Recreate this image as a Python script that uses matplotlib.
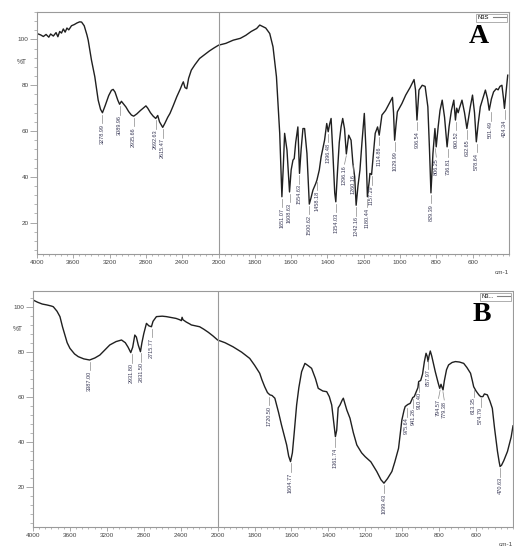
import numpy as np
import matplotlib
matplotlib.use("Agg")
import matplotlib.pyplot as plt
from matplotlib.ticker import FixedLocator, NullFormatter

# ---- spectrum A (N3S) ----
wn_a = [4000, 3960, 3930, 3900, 3870, 3850, 3820, 3790, 3770, 3750, 3730, 3710, 3690, 3670,
        3650, 3620, 3590, 3560, 3530, 3509, 3480, 3450, 3436, 3400, 3363, 3340, 3326, 3300,
        3279, 3250, 3210, 3180, 3161, 3140, 3110, 3090, 3070, 3050, 3020, 2990, 2960, 2935,
        2900, 2860, 2830, 2800, 2780, 2750, 2720, 2692, 2670, 2650, 2615, 2590, 2560, 2535,
        2500, 2460, 2420, 2400, 2388, 2370, 2350, 2330, 2300, 2260, 2209, 2150, 2100, 2050,
        2000, 1960, 1919, 1880, 1850, 1820, 1790, 1773, 1760, 1740, 1718, 1700, 1681, 1663,
        1651, 1643, 1636, 1623, 1609, 1600, 1590, 1583, 1575, 1563, 1554, 1545, 1535, 1526,
        1513, 1500, 1490, 1480, 1465, 1458, 1445, 1435, 1416, 1404, 1396, 1388, 1380, 1370,
        1360, 1354, 1345, 1335, 1325, 1316, 1306, 1296, 1288, 1283, 1270, 1260, 1250, 1242,
        1232, 1221, 1210, 1197, 1188, 1180, 1170, 1166, 1157, 1147, 1137, 1124, 1115, 1100,
        1080, 1060, 1042, 1036, 1030, 1022, 1015, 990, 969, 945, 923, 915, 907, 900,
        896, 878, 862, 847, 838, 830, 824, 819, 808, 801, 790, 780, 768, 755,
        741, 730, 717, 704, 695, 688, 680, 673, 659, 645, 632, 620, 613, 601,
        590, 580, 570, 558, 545, 530, 518, 509, 497, 485, 470, 460, 450, 439,
        430, 425, 415, 407]
t_a = [102.6, 102.0, 101.3, 102.2, 101.0, 102.4, 101.5, 103.0, 101.2, 103.5, 102.8, 104.6, 103.2, 105.0,
       104.2, 106.0, 106.5, 107.2, 107.7, 107.6, 106.0, 102.0, 99.7, 91.0, 83.7, 77.5, 73.5, 69.5,
       68.0, 71.0, 75.5, 77.8, 78.2, 77.0, 73.5, 71.7, 73.0, 72.0, 70.5, 68.5, 67.0, 66.5,
       67.5, 69.0, 70.0, 71.0, 70.0, 68.0, 66.5, 65.5, 66.8, 64.0, 61.6, 63.5, 66.0, 67.7,
       71.0, 75.0, 78.5, 80.5, 81.5, 79.0, 78.5, 83.0, 86.6, 89.0, 91.7, 93.5, 95.0, 96.3,
       97.5, 98.3, 99.7, 100.5, 101.8, 103.5, 104.8, 106.3, 105.8, 105.0, 102.6, 96.8, 83.7, 59.0,
       31.3, 45.0, 59.0, 51.7, 33.4, 43.0, 47.3, 48.0, 55.0, 61.8, 41.5, 52.0, 61.1, 61.1,
       50.2, 28.1, 31.0, 34.2, 37.0, 38.6, 43.0, 48.7, 56.0, 63.3, 59.7, 63.0, 65.5, 50.0,
       33.0, 29.1, 42.0, 55.0, 61.8, 65.5, 61.0, 50.0, 55.0, 58.2, 56.0, 46.0, 40.0, 27.6,
       36.0, 43.0, 55.0, 67.7, 52.0, 31.3, 38.0, 41.5, 41.0, 50.0, 59.0, 61.8, 58.2, 67.0,
       69.0, 72.0, 74.7, 68.0, 56.0, 63.0, 68.4, 72.0, 75.7, 79.0, 82.5, 78.0, 64.8, 73.0,
       77.9, 80.0, 79.5, 70.6, 52.0, 33.0, 42.0, 50.2, 61.1, 53.1, 62.0, 69.0, 73.5, 66.0,
       53.1, 62.0, 69.1, 73.5, 64.8, 70.0, 68.0, 70.0, 73.5, 68.0, 61.1, 67.0, 70.6, 75.7,
       68.0, 55.3, 63.0, 70.6, 74.0, 77.9, 74.0, 69.1, 74.0, 77.1, 78.5, 78.0, 79.5, 80.0,
       74.0, 69.9, 78.0, 84.4]

peaks_a = [3278.99, 3089.96, 2935.66, 2692.63, 2615.47, 1651.07, 1608.63, 1554.63, 1500.62,
           1458.18, 1396.48, 1354.03, 1296.16, 1260.16, 1242.16, 1180.44, 1157.29, 1114.86,
           1029.99, 906.54, 829.39, 806.25, 736.81, 690.52, 632.65, 578.64, 501.49, 424.34]
peak_t_a = [68.0, 71.7, 66.5, 65.5, 61.6, 31.3, 33.4, 41.5, 28.1,
            38.6, 59.7, 29.1, 50.0, 46.0, 27.6, 31.3, 41.0, 58.2,
            56.0, 64.8, 33.0, 53.1, 53.1, 64.8, 61.1, 55.3, 69.1, 69.9]

# ---- spectrum B ----
wn_b = [4000, 3950, 3900, 3850, 3800, 3780, 3740, 3708, 3680, 3654, 3630, 3600, 3550, 3510,
        3450, 3387, 3330, 3276, 3220, 3168, 3100, 3041, 3000, 2970, 2941, 2920, 2897, 2880,
        2860, 2836, 2820, 2800, 2771, 2745, 2717, 2700, 2663, 2600, 2555, 2500, 2450, 2410,
        2393, 2385, 2375, 2340, 2300, 2285, 2240, 2195, 2150, 2100, 2050, 2000, 1960, 1917,
        1870, 1826, 1800, 1772, 1760, 1745, 1730, 1717, 1705, 1690, 1670, 1654, 1640, 1626,
        1615, 1605, 1595, 1585, 1572, 1560, 1545, 1527, 1510, 1491, 1470, 1455, 1430, 1409,
        1395, 1382, 1370, 1362, 1355, 1347, 1337, 1325, 1319, 1300, 1283, 1265, 1246, 1220,
        1201, 1170, 1138, 1115, 1099, 1080, 1056, 1040, 1020, 1002, 990, 984, 970, 957,
        943, 935, 924, 915, 911, 900, 890, 880, 871, 865, 860, 855, 848, 840,
        821, 805, 797, 790, 786, 779, 772, 760, 749, 730, 712, 690, 667, 650,
        630, 620, 613, 600, 585, 575, 563, 555, 539, 525, 512, 500, 484, 475,
        470, 462, 450, 430, 410, 400]
t_b = [103.0, 102.0, 101.2, 100.8, 100.3, 100.0, 98.0, 95.6, 91.0, 87.4, 84.0, 81.5, 79.0, 77.8,
       76.8, 76.3, 77.2, 78.5, 80.8, 83.0, 84.5, 85.2, 84.0, 82.0, 79.6, 82.0, 87.4, 86.5,
       83.0, 80.0, 84.0, 88.0, 92.6, 91.5, 91.1, 93.5, 95.6, 95.8, 95.6, 95.2, 94.8, 94.2,
       93.8, 95.3, 94.2, 93.2, 92.3, 91.9, 91.5, 91.1, 90.0, 88.6, 87.0, 85.2, 84.0, 82.2,
       79.8, 77.0, 74.0, 70.4, 67.5, 64.4, 61.8, 60.8, 60.5, 59.3, 53.0, 47.4, 43.0, 38.5,
       33.5, 31.1, 35.0, 44.0, 56.3, 64.0, 71.1, 74.8, 73.8, 72.6, 68.0, 63.7, 62.5, 62.2,
       60.0, 56.3, 48.0, 42.2, 45.0, 55.0, 56.3, 58.5, 59.3, 54.0, 50.4, 44.0, 38.5, 35.0,
       33.3, 31.0, 26.7, 23.0, 21.5, 23.5, 26.7, 31.0, 37.0, 49.6, 54.0, 55.6, 56.5, 57.0,
       59.6, 60.0, 62.2, 64.0, 66.7, 67.2, 70.0, 75.6, 79.3, 78.0, 75.6, 78.0, 80.3, 78.0,
       71.1, 66.0, 63.7, 65.5, 64.5, 63.0, 67.0, 72.0, 74.1, 75.2, 75.6, 75.4, 74.8, 73.0,
       70.4, 67.0, 64.4, 62.5, 60.8, 60.0, 60.0, 61.2, 60.8, 58.0, 54.8, 46.0, 35.6, 31.0,
       28.9, 29.5, 31.5, 35.6, 42.0, 47.0]

peaks_b = [3387.00, 2931.80, 2831.50, 2715.77, 1720.50, 1604.77, 1361.74, 1099.43, 975.64,
           941.26, 910.40, 857.97, 794.57, 779.38, 613.35, 574.79, 470.63]
peak_t_b = [76.3, 79.6, 80.0, 91.1, 60.8, 31.1, 42.2, 21.5, 55.6,
            59.6, 66.7, 77.0, 63.7, 63.0, 64.4, 60.0, 28.9]

xmajor_left = [4000, 3600, 3200, 2800, 2400, 2000]
xmajor_right = [1800, 1600, 1400, 1200, 1000, 800, 600]
ymajor = [20, 40, 60, 80, 100]

# labels that the instrument software pushed sideways (text x shift, cm-1)
shift_a = {1296.16: 10, 806.25: -6}
shift_b = {794.57: 9, 779.38: -7}


# 4000-2000 drawn at half scale, like the instrument software does
def fwd(x):
    x = np.asarray(x, dtype=float)
    return np.where(x > 2000, 2000 + (x - 2000) / 2.0, x)


def inv(f):
    f = np.asarray(f, dtype=float)
    return np.where(f > 2000, 2000 + (f - 2000) * 2.0, f)


plt.rcParams['font.family'] = ['Liberation Sans', 'DejaVu Sans']
frame_col = '#9a9a9a'
lab_col = '#3b3b58'

fig = plt.figure(figsize=(5.14, 5.48), dpi=100)
ax_a = fig.add_axes([37/514, 1-254/548, 472/514, 242/548])
ax_b = fig.add_axes([33/514, 1-527/548, 480/514, 236/548])


def setup(ax, wn, t, peaks, peak_t, shifts, ylim, name, letter, gap):
    ax.set_xscale('function', functions=(fwd, inv))
    ax.plot(wn, t, color='#202020', lw=1.0, label=name)
    ax.set_xlim(4000, 400)
    ax.set_ylim(*ylim)
    ax.axvline(2000, color=frame_col, lw=0.8)

    for w, pt in zip(peaks, peak_t):
        tx = w + shifts.get(w, 0)
        ax.plot([w, tx], [pt - 0.8, pt - gap], color='#8a8a8a', lw=0.5)
        ax.text(tx, pt - gap - 0.3, '%.2f' % w, rotation=90, ha='center', va='top',
                fontsize=4.0, color=lab_col)

    ax.xaxis.set_major_locator(FixedLocator(xmajor_left + xmajor_right))
    minors = list(np.linspace(4000, 2000, 31)) + list(np.linspace(2000, 400, 49))
    ax.xaxis.set_minor_locator(FixedLocator(minors))
    ax.xaxis.set_minor_formatter(NullFormatter())
    ax.yaxis.set_major_locator(FixedLocator(ymajor))
    ax.yaxis.set_minor_locator(FixedLocator(np.arange(4, 113, 4)))
    ax.tick_params(axis='x', which='major', length=3, width=0.6, color=frame_col,
                   labelsize=4.6, labelcolor='#444444', pad=1.5)
    ax.tick_params(axis='x', which='minor', length=1.6, width=0.5, color=frame_col)
    ax.tick_params(axis='y', which='major', length=5, width=0.6, color=frame_col,
                   labelsize=4.6, labelcolor='#444444', pad=1)
    ax.tick_params(axis='y', which='minor', length=2.5, width=0.5, color=frame_col)
    for s in ax.spines.values():
        s.set_color(frame_col)
        s.set_linewidth(0.8)

    ax.text(-0.022, 90, '%T', transform=ax.get_yaxis_transform(), ha='right', va='center',
            fontsize=4.8, color='#444444')
    ax.text(0.985, -0.075, 'cm-1', transform=ax.transAxes, ha='center', va='center',
            fontsize=4.6, color='#444444')
    ax.text(0.935, 0.9, letter, transform=ax.transAxes, ha='center', va='center',
            fontsize=20, fontweight='bold', family='Liberation Serif')
    leg = ax.legend(loc='upper right', fontsize=4.2, frameon=True, fancybox=False,
                    borderaxespad=0.3, borderpad=0.25, handlelength=2.2,
                    handletextpad=0.6, markerfirst=False)
    leg.get_frame().set_edgecolor('#8a8a8a')
    leg.get_frame().set_linewidth(0.6)
    leg.get_lines()[0].set_color('#808080')
    leg.get_lines()[0].set_linewidth(0.8)


setup(ax_a, wn_a, t_a, peaks_a, peak_t_a, shift_a, (6.3, 112), 'N3S', 'A', 4.5)
setup(ax_b, wn_b, t_b, peaks_b, peak_t_b, shift_b, (2.0, 107), 'N3...', 'B', 4.5)

fig.savefig('out.png', dpi=100)
